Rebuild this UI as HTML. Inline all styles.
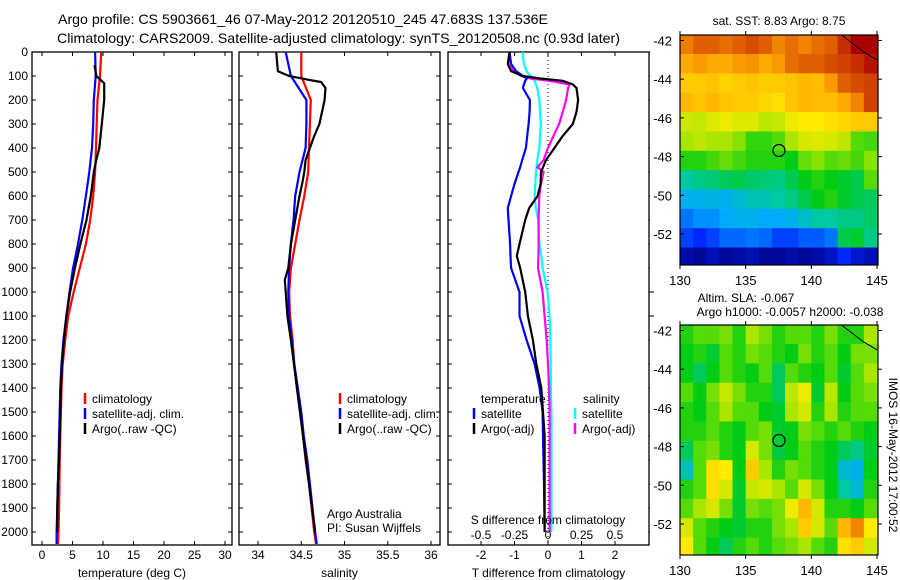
<!DOCTYPE html>
<html><head><meta charset="utf-8">
<style>
body{margin:0;background:#fff;}
svg{display:block;font-family:"Liberation Sans",sans-serif;}
text{fill:#000;}
</style></head>
<body>
<svg id="fig" width="900" height="580" viewBox="0 0 900 580" xmlns="http://www.w3.org/2000/svg">
<text x="58" y="24" font-size="14" textLength="490" lengthAdjust="spacingAndGlyphs">Argo profile: CS 5903661_46 07-May-2012 20120510_245 47.683S 137.536E</text>
<text x="57" y="43" font-size="14" textLength="563" lengthAdjust="spacingAndGlyphs">Climatology: CARS2009. Satellite-adjusted climatology: synTS_20120508.nc (0.93d later)</text>
<g id="layer"></g>
</svg>
<script>
// ---------- data ----------
const depthTicks=[0,100,200,300,400,500,600,700,800,900,1000,1100,1200,1300,1400,1500,1600,1700,1800,1900,2000];
const depths=[0,100,200,300,400,500,600,700,800,900,1000,1100,1200,1300,1400,1500,1600,1700,1800,1900,2000,2050];
const tempClim=[9.7,9.5,9.1,8.96,8.85,8.7,8.4,7.9,7.2,6.2,5.2,4.3,3.8,3.4,3.2,3.1,3.0,2.9,2.85,2.8,2.7,2.6];
const tempSat=[8.7,8.8,8.5,8.4,8.2,7.75,7.2,6.6,5.9,5.1,4.5,4.0,3.5,3.2,3.0,2.9,2.8,2.7,2.6,2.5,2.4,2.4];
const argoDepths=[55,100,130,200,300,400,450,500,600,700,800,900,1000,1100,1200,1300,1400,1500,1600,1700,1800,1900,2000];
const tempArgo=[8.6,8.9,10.2,10.2,9.8,9.4,8.9,8.5,8.0,7.3,6.3,5.4,4.6,4.0,3.6,3.3,3.1,3.0,2.9,2.8,2.6,2.5,2.5];
const salClim=[34.50,34.50,34.61,34.60,34.59,34.58,34.535,34.48,34.43,34.38,34.36,34.37,34.40,34.42,34.45,34.49,34.52,34.55,34.59,34.62,34.65,34.67];
const salSat=[34.32,34.38,34.56,34.56,34.55,34.48,34.43,34.41,34.38,34.36,34.35,34.36,34.39,34.42,34.46,34.50,34.53,34.57,34.60,34.63,34.66,34.68];
const salArgoDepths=[0,80,100,115,125,150,200,250,300,350,400,450,500,550,600,700,800,900,950,1000,1100,1200,1400,1600,1800,2000];
const salArgo=[34.21,34.23,34.36,34.57,34.73,34.78,34.77,34.74,34.71,34.65,34.60,34.55,34.535,34.51,34.48,34.43,34.38,34.35,34.31,34.32,34.34,34.38,34.45,34.52,34.59,34.66];
const diffDepths=[0,50,80,100,110,120,135,150,200,250,300,350,400,450,480,500,550,600,650,700,800,850,900,1000,1100,1200,1300,1400,1500,1600,1800,2000];
const tDiffSat=[-1.15,-1.1,-0.95,-0.75,-0.63,-0.68,-0.72,-0.75,-0.54,-0.55,-0.58,-0.62,-0.66,-0.77,-0.83,-0.88,-1.0,-1.1,-1.2,-1.18,-1.13,-1.12,-1.1,-0.85,-0.85,-0.64,-0.4,-0.25,-0.16,-0.15,-0.12,-0.1];
const tDiffArgo=[-1.15,-1.2,-1.1,-0.75,-0.26,0.44,0.74,0.85,0.9,0.85,0.74,0.44,0.19,-0.06,-0.15,-0.21,-0.22,-0.31,-0.56,-0.68,-0.85,-0.93,-0.83,-0.68,-0.6,-0.45,-0.35,-0.2,-0.15,-0.1,-0.1,-0.1];
const sDiffSat=[-0.19,-0.18,-0.16,-0.13,-0.11,-0.1,-0.09,-0.08,-0.065,-0.06,-0.053,-0.06,-0.065,-0.08,-0.085,-0.09,-0.095,-0.1,-0.09,-0.073,-0.065,-0.05,-0.04,-0.003,0.012,0.018,0.02,0.022,0.025,0.025,0.025,0.025];
const sDiffArgo=[-0.29,-0.28,-0.26,-0.2,-0.135,0.012,0.16,0.15,0.135,0.11,0.083,0.04,0.0,-0.033,-0.078,-0.033,-0.053,-0.065,-0.068,-0.07,-0.07,-0.072,-0.075,-0.04,-0.025,-0.01,0.0,0.008,0.012,0.012,0.012,0.012];
const tempTicks=[0,5,10,15,20,25,30];
const salTicks=[34,34.5,35,35.5,36];
const tDiffTicks=[-2,-1,0,1,2];
const sDiffTicks=[-0.5,-0.25,0,0.25,0.5];
const latTicks=[-42,-44,-46,-48,-50,-52];
const lonTicks=[130,135,140,145];
const mapLats=[-42.2,-43.2,-44.2,-45.2,-46.2,-47.2,-48.2,-49.2,-50.2,-51.2,-52.2,-53.2];
const mapLons=[130.5,131.5,132.5,133.5,134.5,135.5,136.5,137.5,138.5,139.5,140.5,141.5,142.5,143.5,144.5];
const sstGrid=[
[11.6,12,12,11.8,12,12.2,12,11.5,11.8,11.5,11.8,12,12.5,13,13],
[11,11.2,11,11,11.2,11.3,11,11.2,11.8,12,12,12.2,12.3,12.5,12.8],
[10.5,10.5,10.6,10.4,10.5,10.6,10.5,10.5,10.6,10.8,10.7,11.2,12,12.2,12.3],
[10.8,10.6,10.8,10.6,10.5,10.5,10.3,10.2,10.6,10.8,10.7,10.7,11,11.5,12.3],
[9.4,9.3,9.6,9.8,9.6,9.6,9.2,9.3,9.8,10,10,10.2,10.3,10.5,10.5],
[9,9.2,9,9,8.8,8.3,8.3,8.5,9,9.5,9.6,9.5,9.2,8.5,8.4],
[8.2,8.2,8.4,8.6,8.4,8.2,8.2,8.2,8,8.6,8.8,8.5,8.6,8.4,8.8],
[7,7.2,7.3,7.5,7.6,7.4,7.3,7.2,7.6,8,8.2,8,7.8,7.6,8.5],
[6.2,6.2,6.3,6.2,6.5,6.8,6.8,7,7.2,7.6,8,8.2,7.8,7.6,7.5],
[5.6,5.8,5.8,6,6.2,6.2,6,6,6.2,6.6,7,7,7.2,7.2,7.4],
[5.2,5,5.2,5.5,5.5,5.6,5.5,5.2,5.2,5.4,5.4,5.6,7.6,7.8,7.2],
[4.3,4.2,4.4,4.2,4.3,4.4,4.2,4.2,4.3,4.2,4.3,4.5,5,4.6,4.4]];
const slaGrid=[
[-8,-5,-5,-3,-8,0,-3,-8,-5,-5,-8,-3,-8,-8,0],
[-10,-8,-12,-5,-8,-3,-5,-8,-10,-3,-8,-5,-10,-3,-3],
[-10,-15,-10,-5,-8,-10,-5,-15,-5,-8,-10,-5,-12,-5,0],
[-5,-10,-3,3,-3,-8,-8,-15,2,8,-12,2,-10,-5,-3],
[-8,-10,-5,0,-5,-5,-10,-12,0,5,-8,0,-8,-5,-5],
[-8,-8,-5,-8,-10,-5,-3,-12,-10,-3,-5,-8,-5,-8,-10],
[-15,-5,-3,-8,-10,5,-3,-13,-10,-5,-8,-10,-15,-18,-12],
[-22,-5,12,10,-10,15,0,-8,-3,-5,-8,-10,-25,-28,-10],
[-8,-5,12,5,-12,3,5,0,-5,5,-3,-10,-20,-25,-8],
[-5,0,5,-3,-12,-3,-5,-3,8,18,5,-8,-8,-10,-5],
[5,-5,-8,-10,-12,-8,-8,-3,0,15,5,-5,18,25,10],
[10,-5,-10,-15,-8,-5,-8,-5,-3,0,-5,-8,12,15,5]];
const argoLon=137.536, argoLat=-47.683;

// ---------- helpers ----------
const NS='http://www.w3.org/2000/svg';
const layer=document.getElementById('layer');
function mk(tag,attrs,parent){const e=document.createElementNS(NS,tag);for(const k in attrs)e.setAttribute(k,attrs[k]);(parent||layer).appendChild(e);return e;}
function txt(s,x,y,size,anchor,parent){const t=mk('text',{x:x,y:y,'font-size':size,'text-anchor':anchor||'start'},parent);t.textContent=s;return t;}
const yDepth=d=>52+d*0.24;
const PT=52,PB=545;
function linS(d0,d1,r0,r1){return v=>r0+(v-d0)*(r1-r0)/(d1-d0);}
const xTemp=linS(0,30,42,225);
const xSal=linS(34,36,258,431);
const xTd=linS(-2,2,481,615);
const xSd=linS(-0.5,0.5,481,615);

function panel(name,x0,x1,xScale,xTicks,xFmt,xTitle,rightOut){
  const g=mk('g',{});
  
  
  const fr=mk('rect',{x:x0,y:PT,width:x1-x0,height:PB-PT,fill:'none',stroke:'#000','stroke-width':1.3},g);
  
  
  xTicks.forEach(v=>{const x=xScale(v);
    mk('line',{x1:x,x2:x,y1:PT,y2:PT+4,stroke:'#000'},g);
    mk('line',{x1:x,x2:x,y1:PB,y2:PB-4,stroke:'#000'},g);
    const t=txt(xFmt(v),x,559,12,'middle',g);
    
    
  });
  depthTicks.forEach(d=>{const y=yDepth(d);
    mk('line',{x1:x0,x2:x0+4,y1:y,y2:y,stroke:'#000'},g);
    if(rightOut) mk('line',{x1:x1,x2:x1+5,y1:y,y2:y,stroke:'#000'},g);
    else mk('line',{x1:x1,x2:x1-4,y1:y,y2:y,stroke:'#000'},g);
  });
  const at=txt(xTitle,(x0+x1)/2,577,12,'middle',g);
  
  
  return g;
}
function curve(g,name,xs,ds,xScale,color,w){
  const pts=xs.map((v,i)=>xScale(v).toFixed(1)+','+yDepth(ds[i]).toFixed(1)).join(' ');
  const p=mk('polyline',{points:pts,fill:'none',stroke:color,'stroke-width':w||2.2,'stroke-linejoin':'miter'},g);
  
  
}
function legendRow(g,label,x,y,color){
  mk('line',{x1:x,x2:x,y1:y-10,y2:y+1,stroke:color,'stroke-width':2.5},g);
  const t=txt(label,x+7,y,12,'start',g);
  
  
}

// y tick labels
depthTicks.forEach(d=>{const t=txt(String(d),28,yDepth(d)+4,12,'end');
  
  });

// panel 1
const g1=panel('temperature-panel',32,232,xTemp,tempTicks,v=>String(v),'temperature (deg C)');
curve(g1,'temperature-climatology-line',tempClim,depths,xTemp,'#f00');
curve(g1,'temperature-satellite-line',tempSat,depths,xTemp,'#00f');
curve(g1,'temperature-argo-line',tempArgo,argoDepths,xTemp,'#000');
legendRow(g1,'climatology',85,403,'#f00');
legendRow(g1,'satellite-adj. clim.',85,418,'#00f');
legendRow(g1,'Argo(..raw -QC)',85,433,'#000');

// panel 2
const g2=panel('salinity-panel',239,440,xSal,salTicks,v=>String(v),'salinity');
curve(g2,'salinity-climatology-line',salClim,depths,xSal,'#f00');
curve(g2,'salinity-satellite-line',salSat,depths,xSal,'#00f');
curve(g2,'salinity-argo-line',salArgo,salArgoDepths,xSal,'#000');
legendRow(g2,'climatology',340,403,'#f00');
legendRow(g2,'satellite-adj. clim.',340,418,'#00f');
legendRow(g2,'Argo(..raw -QC)',340,433,'#000');
let t=txt('Argo Australia',327,518,12,'start',g2);


t=txt('PI: Susan Wijffels',327,532,12,'start',g2);



// panel 3
const g3=panel('difference-panel',448,649,xTd,tDiffTicks,v=>String(v),'T difference from climatology',true);
const zl=mk('line',{x1:xTd(0),x2:xTd(0),y1:PT,y2:PB,stroke:'#000','stroke-dasharray':'1,3','stroke-width':1},g3);


curve(g3,'salinity-diff-satellite-line',sDiffSat,diffDepths,xSd,'#0ff');
curve(g3,'salinity-diff-argo-line',sDiffArgo,diffDepths,xSd,'#f0f');
curve(g3,'temperature-diff-satellite-line',tDiffSat,diffDepths,xTd,'#00f');
curve(g3,'temperature-diff-argo-line',tDiffArgo,diffDepths,xTd,'#000');
t=txt('temperature',481,403,12,'start',g3);


t=txt('salinity',583,403,12,'start',g3);


legendRow(g3,'satellite',474,418,'#00f');
legendRow(g3,'Argo(-adj)',474,433,'#000');
legendRow(g3,'satellite',575,418,'#0ff');
legendRow(g3,'Argo(-adj)',575,433,'#f0f');
t=txt('S difference from climatology',548,524,12,'middle',g3);


sDiffTicks.forEach(v=>{const l=txt(String(v),xSd(v),539,12,'middle',g3);
  
  });

// ---------- maps ----------
const stops=[[0,0,130],[0,40,255],[0,170,255],[0,200,160],[0,205,20],[170,230,0],[255,235,0],[255,170,0],[225,95,0],[170,0,0]];
function cmap(level){level=Math.max(0,Math.min(9,level));const i=Math.min(8,Math.floor(level)),f=level-i;
  const a=stops[i],b=stops[i+1];return 'rgb('+a.map((c,k)=>Math.round(c+(b[k]-c)*f)).join(',')+')';}
function map(name,top,grid,toLevel,labelY){
  const g=mk('g',{});
  
  
  const L=680,R=878,B=top+230;
  const xL=linS(130,145,680,877), yL=linS(-42,-52,top+5.5,top+199);
  const dx=xL(131)-xL(130), dy=yL(-43)-yL(-42);
  grid.forEach((row,r)=>row.forEach((v,c)=>{
    const cell=mk('rect',{x:(xL(mapLons[c])-dx/2).toFixed(2),y:(yL(mapLats[r])-dy/2).toFixed(2),width:(dx+0.6).toFixed(2),height:(dy+0.6).toFixed(2),fill:cmap(toLevel(v))},g);
    
    
  }));
  // clip edges
  mk('rect',{x:L-30,y:top-2,width:30,height:236,fill:'#fff'},g);
  mk('rect',{x:R,y:top-2,width:4,height:236,fill:'#fff'},g);
  mk('rect',{x:L-2,y:B,width:206,height:8,fill:'#fff'},g);
  mk('rect',{x:L-2,y:top-8,width:206,height:8,fill:'#fff'},g);
  mk('polyline',{points:xL(142.3)+','+top+' '+xL(144)+','+yL(-42.6)+' '+xL(145)+','+yL(-43),fill:'none',stroke:'#000','stroke-width':1},g);
  const fr=mk('rect',{x:L,y:top,width:R-L,height:B-top,fill:'none',stroke:'#000','stroke-width':1.2},g);
  
  
  const c=mk('circle',{cx:xL(argoLon),cy:yL(argoLat),r:6,fill:'none',stroke:'#000','stroke-width':1.2},g);
  
  
  latTicks.forEach(v=>{const y=yL(v);
    mk('line',{x1:L,x2:L+4,y1:y,y2:y,stroke:'#000'},g);
    mk('line',{x1:R,x2:R+4,y1:y,y2:y,stroke:'#000'},g);
    const l=txt(String(v),672,y+5,13,'end',g);
    
    });
  lonTicks.forEach(v=>{const x=xL(v);
    mk('line',{x1:x,x2:x,y1:top,y2:top-4,stroke:'#000'},g);
    mk('line',{x1:x,x2:x,y1:B,y2:B+4,stroke:'#000'},g);
    const l=txt(String(v),x,labelY,13,'middle',g);
    
    });
  return g;
}
const m1=map('sst-map',35,sstGrid,v=>v-4,285);
t=txt('sat. SST: 8.83 Argo: 8.75',779,25,12,'middle',m1);


const m2=map('sla-map',325,slaGrid,v=>5+v/10,575);
t=txt('Altim. SLA: -0.067',746,302,12,'middle',m2);


t=txt('Argo h1000: -0.0057 h2000: -0.038',790,316,12,'middle',m2);


t=txt('IMOS 16-May-2012 17:00:52',0,0,12,'middle');
t.setAttribute('transform','translate(889,455) rotate(90)');


</script>
</body></html>
